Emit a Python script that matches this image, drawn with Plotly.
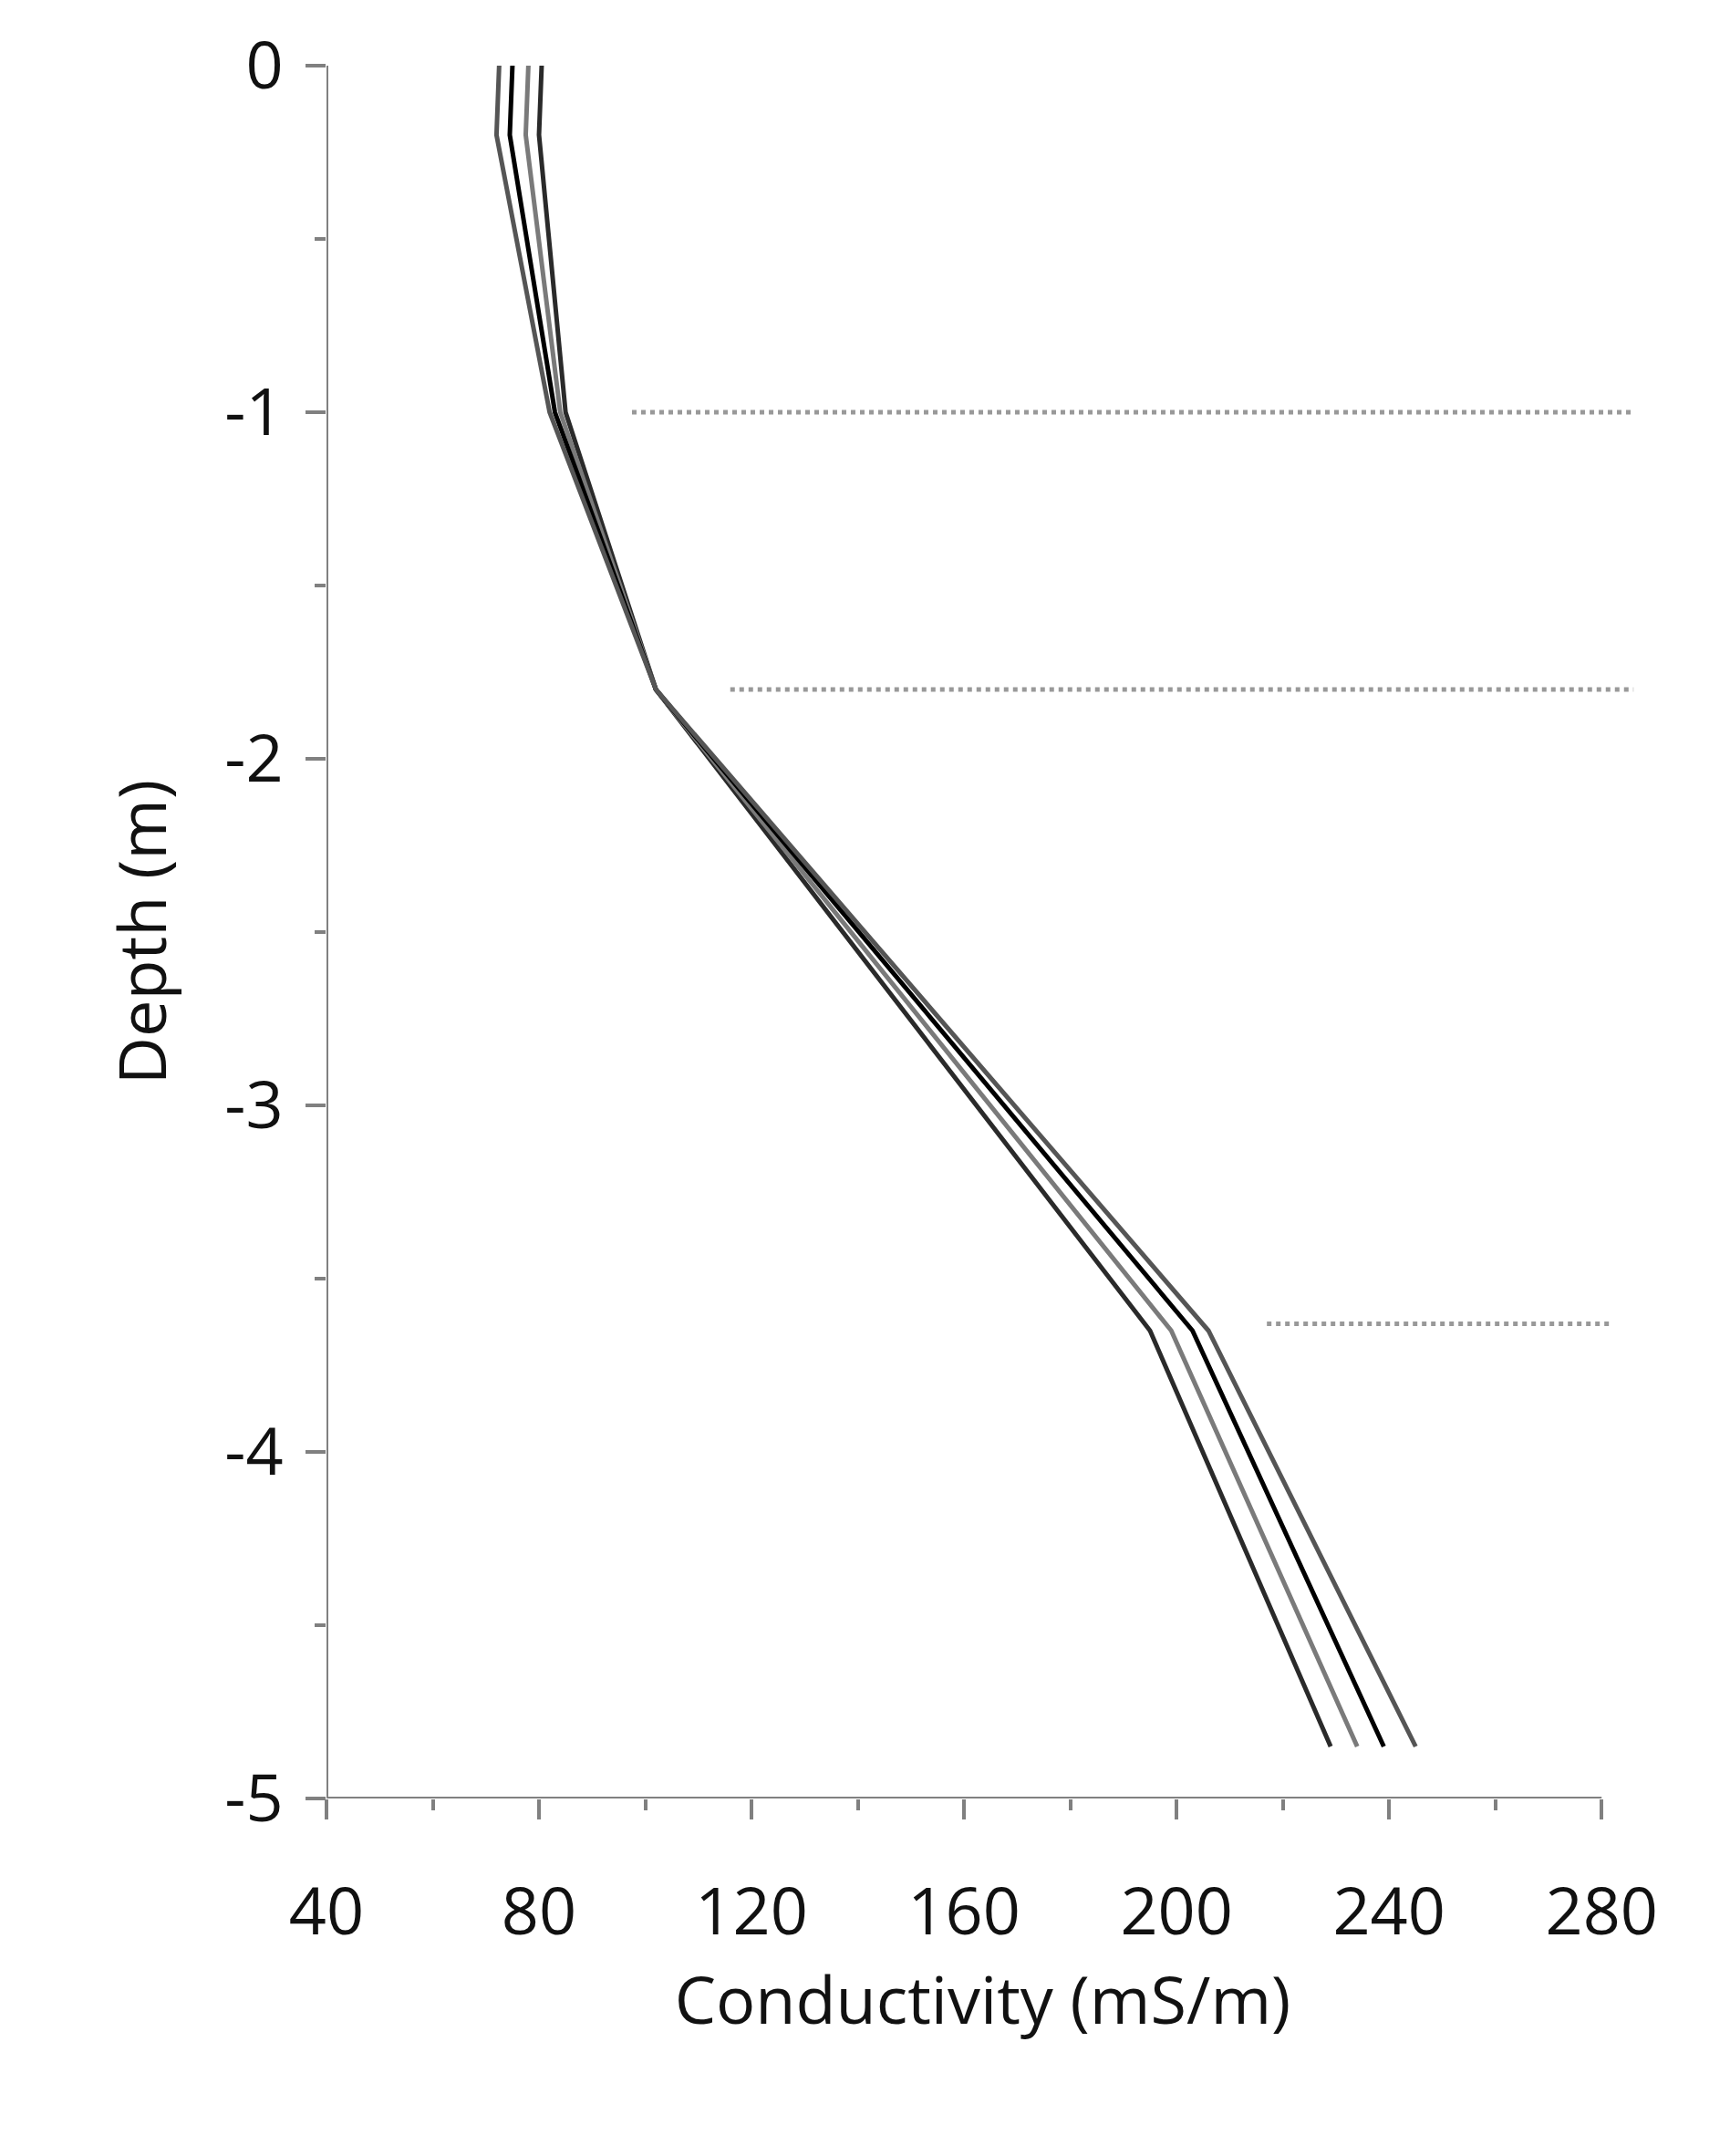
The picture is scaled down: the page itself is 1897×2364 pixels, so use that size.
import plotly.graph_objects as go

depth = [0, -0.2, -1.0, -1.8, -3.65, -4.85]
cond_a = [80.5, 80.0, 85.0, 102.0, 195.0, 229.0]
cond_b = [78.0, 77.5, 84.0, 102.0, 199.0, 234.0]
cond_c = [75.0, 74.5, 83.0, 102.0, 203.0, 239.0]
cond_d = [72.5, 72.0, 82.0, 102.0, 206.0, 245.0]
line_colors = ["#2a2a2a", "#7a7a7a", "#000000", "#555555"]

y_ticks = [0, -1, -2, -3, -4, -5]
y_labels = ["0", "-1", "-2", "-3", "-4", "-5"]

# dotted layer boundaries: (depth, x start, x end)
boundaries = [(-1.0, 97.5, 286.0), (-1.8, 116.0, 286.0), (-3.63, 217.0, 282.0)]

fig = go.Figure()
for vals, col in zip([cond_a, cond_b, cond_c, cond_d], line_colors):
    fig.add_trace(go.Scatter(x=vals, y=depth, mode="lines",
                             line=dict(color=col, width=5), showlegend=False))

for d, x0, x1 in boundaries:
    fig.add_trace(go.Scatter(x=[x0, x1], y=[d, d], mode="lines",
                             line=dict(color="#999999", width=5, dash="dot"),
                             showlegend=False))

# axis lines drawn by hand so the dotted lines can run past 280
fig.add_shape(type="line", x0=40, x1=280, y0=-5, y1=-5, xref="x", yref="y",
              line=dict(color="#808080", width=4))
fig.add_shape(type="line", x0=40, x1=40, y0=0, y1=-5, xref="x", yref="y",
              line=dict(color="#808080", width=4))

fnt = dict(family="Open Sans, Lato, sans-serif", size=72, color="#111111")
fig.update_layout(
    width=1897, height=2364,
    margin=dict(l=350, r=108, t=64, b=400),
    plot_bgcolor="white", paper_bgcolor="white",
    font=fnt,
    xaxis=dict(range=[40, 287], tick0=40, dtick=40, showgrid=False, zeroline=False,
               ticks="outside", ticklen=22, tickwidth=4, tickcolor="#808080",
               ticklabelstandoff=40,
               minor=dict(dtick=20, ticks="outside", ticklen=12, tickwidth=4,
                          tickcolor="#808080"),
               title=dict(text="Conductivity (mS/m)", font=fnt, standoff=20)),
    yaxis=dict(range=[-5, 0], tickvals=y_ticks, ticktext=y_labels,
               showgrid=False, zeroline=False,
               ticks="outside", ticklen=22, tickwidth=4, tickcolor="#808080",
               ticklabelstandoff=10,
               minor=dict(dtick=0.5, ticks="outside", ticklen=12, tickwidth=4,
                          tickcolor="#808080"),
               title=dict(text="Depth (m)", font=fnt, standoff=40)),
)

fig.write_html("out.html")
